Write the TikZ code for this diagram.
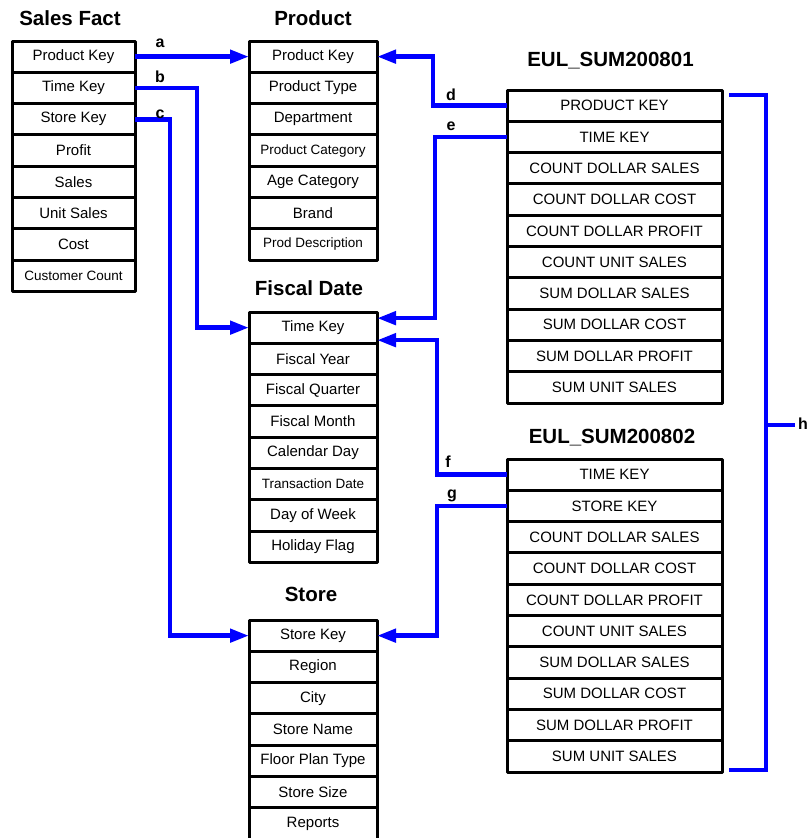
\documentclass[tikz,border=0pt]{standalone}
\usepackage{fontspec}
\setmainfont{Liberation Sans}
\usetikzlibrary{arrows.meta}
\newcommand\smtxt[1]{{\fontsize{13.5}{15}\selectfont #1}}

\begin{document}
\begin{tikzpicture}[x=1pt,y=-1pt,
    field/.style={draw,rectangle,line width=3pt,line join=round,inner sep=0pt,outer sep=0pt,
        minimum height=31.3pt,font=\fontsize{15}{17}\selectfont},
    title/.style={anchor=base,font=\bfseries\fontsize{20.5}{24}\selectfont},
    tag/.style={anchor=base,font=\bfseries\fontsize{16}{18}\selectfont},
    link/.style={blue,line width=4.5pt},
    arr/.style={-{Triangle[length=19pt,width=13pt]}}]
    \useasboundingbox (0,0) rectangle (810,838);
    % tables
    \node[title] (sftitle) at (70,25) {Sales Fact};
    \foreach \fld [count=\i] in {Product Key,Time Key,Store Key,Profit,Sales,Unit Sales,Cost,\smtxt{Customer Count}}
        \node[field,minimum width=123pt] (sf\i) at (73.5,{41+31.3*(\i-0.5)}) {\fld};
    \node[title] (prtitle) at (313,25) {Product};
    \foreach \fld [count=\i] in {Product Key,Product Type,Department,\smtxt{Product Category},Age Category,Brand,\smtxt{Prod Description}}
        \node[field,minimum width=128pt] (pr\i) at (313,{41+31.3*(\i-0.5)}) {\fld};
    \node[title] (fdtitle) at (309,295) {Fiscal Date};
    \foreach \fld [count=\i] in {Time Key,Fiscal Year,Fiscal Quarter,Fiscal Month,Calendar Day,\smtxt{Transaction Date},Day of Week,Holiday Flag}
        \node[field,minimum width=128pt] (fd\i) at (313,{312+31.3*(\i-0.5)}) {\fld};
    \node[title] (sttitle) at (311,601) {Store};
    \foreach \fld [count=\i] in {Store Key,Region,City,Store Name,Floor Plan Type,Store Size,Reports}
        \node[field,minimum width=128pt] (st\i) at (313,{620+31.3*(\i-0.5)}) {\fld};
    % summary tables
    \node[title] (eatitle) at (610.5,66.5) {EUL\_SUM200801};
    \foreach \fld [count=\i] in {PRODUCT KEY,TIME KEY,COUNT DOLLAR SALES,COUNT DOLLAR COST,COUNT DOLLAR PROFIT,COUNT UNIT SALES,SUM DOLLAR SALES,SUM DOLLAR COST,SUM DOLLAR PROFIT,SUM UNIT SALES}
        \node[field,minimum width=215pt] (ea\i) at (614.5,{90+31.3*(\i-0.5)}) {\fld};
    \node[title] (ebtitle) at (612,443) {EUL\_SUM200802};
    \foreach \fld [count=\i] in {TIME KEY,STORE KEY,COUNT DOLLAR SALES,COUNT DOLLAR COST,COUNT DOLLAR PROFIT,COUNT UNIT SALES,SUM DOLLAR SALES,SUM DOLLAR COST,SUM DOLLAR PROFIT,SUM UNIT SALES}
        \node[field,minimum width=215pt] (eb\i) at (614.5,{459+31.3*(\i-0.5)}) {\fld};
    % links
    \draw[link,arr] (sf1.east) -- (pr1.west);
    \draw[link,arr] (sf2.east) -- ++(62,0) |- (fd1.west);
    \draw[link,arr] (sf3.east) -- ++(35,0) |- (st1.west);
    \draw[link,arr] (ea1.west) -- ++(-74,0) |- (pr1.east);
    \draw[link,arr] (ea2.west) -- ++(-72,0) |- ([yshift=9.5pt]fd1.east);
    \draw[link,arr] (eb1.west) -- ++(-70,0) |- ([yshift=-12.5pt]fd1.east);
    \draw[link,arr] (eb2.west) -- ++(-70,0) |- (st1.east);
    \node[tag] (la) at (160,47) {a};
    \node[tag] (lb) at (160,82) {b};
    \node[tag] (lc) at (160,118) {c};
    \node[tag] (ld) at (451,100) {d};
    \node[tag] (le) at (451,130) {e};
    \node[tag] (lf) at (448,467) {f};
    \node[tag] (lg) at (452,498) {g};
    % bracket over both summaries
    \coordinate (htop) at (729,95);
    \coordinate (hbot) at (729,770);
    \coordinate (hmid) at (766,425);
    \draw[link] (htop) -- ++(37,0) |- (hbot);
    \node[tag] (lh) at (803,429) {h};
    \draw[link] (hmid) -- (hmid -| lh.west);
\end{tikzpicture}
\end{document}
